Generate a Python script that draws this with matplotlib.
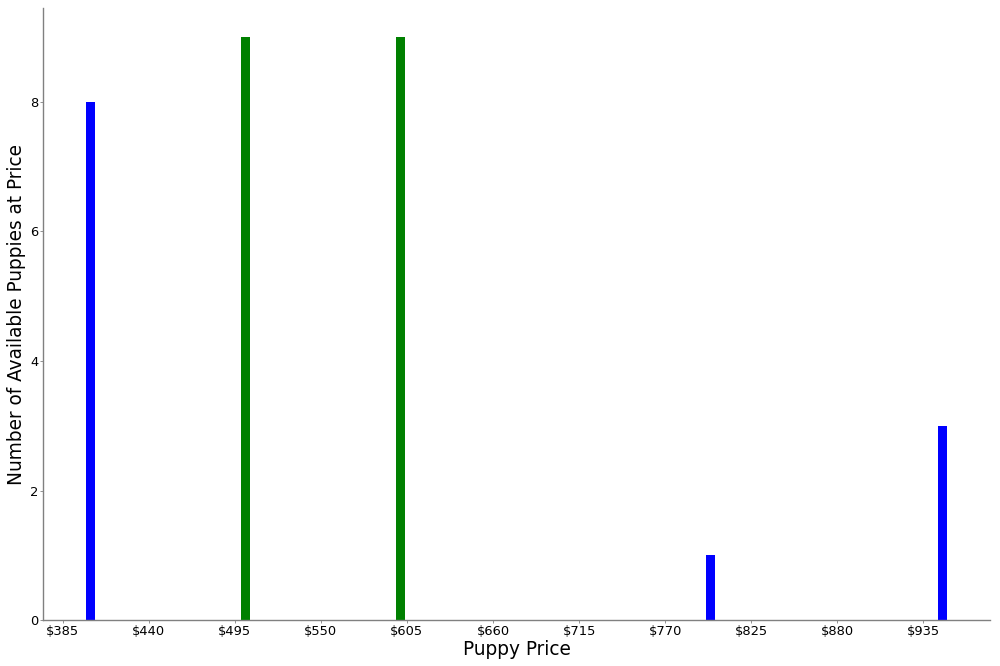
import matplotlib
matplotlib.use("Agg")
import matplotlib.pyplot as plt
import numpy as np

prices = [400, 500, 600, 800, 950]
counts = [8, 9, 9, 1, 3]
bar_colors = ["blue", "green", "green", "blue", "blue"]
tick_values = list(range(385, 990, 55))
tick_labels = [f"${v}" for v in tick_values]

s = 2 / 3
fig = plt.figure(figsize=(10, 6.66), dpi=100)
ax = fig.add_axes([0.043, 0.069, 0.947, 0.919])

n, bins, patches = ax.hist(prices, bins=100, range=(min(prices), max(prices)), weights=counts, color="blue")
for p, c in zip(prices, bar_colors):
    idx = min(np.searchsorted(bins, p, side="right") - 1, len(patches) - 1)
    patches[idx].set_facecolor(c)

ax.set_xticks(tick_values)
ax.set_xticklabels(tick_labels)
ax.tick_params(labelsize=14 * s, length=2.0, width=0.6, pad=1.5,
               colors="grey", labelcolor="black")
ax.set_xlabel("Puppy Price", fontsize=20 * s, labelpad=1.5)
ax.set_ylabel("Number of Available Puppies at Price", fontsize=20 * s, labelpad=3)
ax.spines["top"].set_visible(False)
ax.spines["right"].set_visible(False)
for sp in ["left", "bottom"]:
    ax.spines[sp].set_color("grey")
    ax.spines[sp].set_linewidth(1.0)

fig.savefig("out.png", dpi=100)
